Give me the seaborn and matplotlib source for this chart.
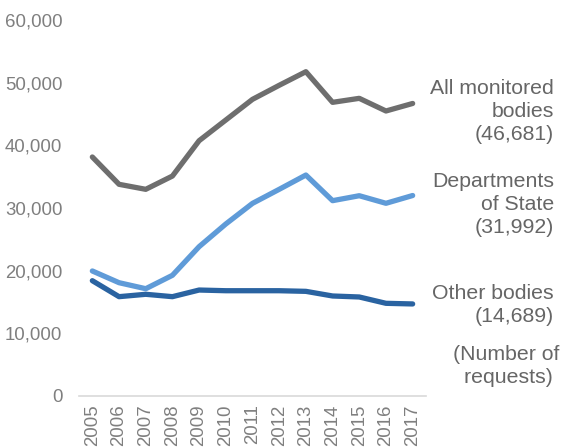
import numpy as np
import pandas as pd
import seaborn as sns
import matplotlib.pyplot as plt

# Data
years = list(range(2005, 2018))
all_bodies = [38140, 33780, 32980, 35100, 40740, 44040, 47340, 49580, 51750, 46860, 47500, 45480, 46681]
departments = [19950, 18080, 17120, 19260, 23830, 27450, 30740, 32980, 35260, 31170, 31960, 30750, 31992]
other_bodies = [18400, 15850, 16230, 15850, 16910, 16800, 16800, 16800, 16700, 15960, 15800, 14790, 14689]

series_names = ['All monitored bodies', 'Departments of State', 'Other bodies']
series_labels = ['All monitored\nbodies\n(46,681)', 'Departments\nof State\n(31,992)', 'Other bodies\n(14,689)']
colors = ['#6e6e6e', '#5f9bd8', '#2a63a1']

df = pd.DataFrame({
    'year': years * 3,
    'requests': all_bodies + departments + other_bodies,
    'series': [series_names[0]] * 13 + [series_names[1]] * 13 + [series_names[2]] * 13,
})

sns.set_style('white')
plt.rcParams['font.family'] = ['Liberation Sans', 'DejaVu Sans']

fig = plt.figure(figsize=(5.63, 4.47), dpi=100)
ax = fig.add_axes([79 / 563, 51 / 447, 347 / 563, 376 / 447])

sns.lineplot(data=df, x='year', y='requests', hue='series', palette=colors,
             linewidth=3.8, legend=False, ax=ax, solid_capstyle='round')

ax.set_xlim(2004.5, 2017.5)
ax.set_ylim(0, 60000)
ax.set_xticks(years)
ax.set_xticklabels([str(y) for y in years], rotation=90)
ax.set_yticks(range(0, 60001, 10000))
ax.set_yticklabels(['{:,}'.format(v) for v in range(0, 60001, 10000)])
ax.tick_params(axis='both', labelsize=13.4, colors='#7f7f7f', length=0)
ax.tick_params(axis='y', pad=12)
ax.tick_params(axis='x', pad=6)
ax.set_xlabel('')
ax.set_ylabel('')

for side in ['top', 'right', 'left']:
    ax.spines[side].set_visible(False)
ax.spines['bottom'].set_color('#d9d9d9')
ax.spines['bottom'].set_linewidth(1.2)

# Series labels on the right
label_tops = [79, 172, 284]
for lab, top in zip(series_labels, label_tops):
    fig.text(554 / 563, 1 - top / 447, lab, ha='right', va='top', fontsize=15.3,
             color='#666666', linespacing=1.28)
fig.text(559 / 563, 1 - 345 / 447, '(Number of\nrequests) ', ha='right', va='top',
         fontsize=15.3, color='#666666', linespacing=1.28)

fig.savefig('out.png', dpi=100)
